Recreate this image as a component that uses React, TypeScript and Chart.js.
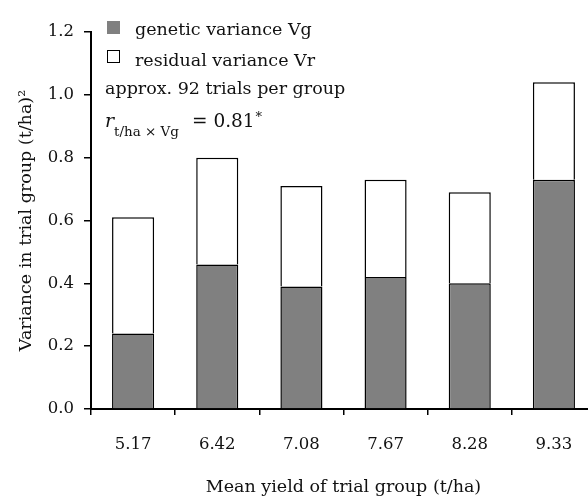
import React, { useEffect, useRef } from "react";
import { Chart, registerables } from "chart.js";

Chart.register(...registerables);

// Mean yield of each trial group (t/ha)
const groups = ["5.17", "6.42", "7.08", "7.67", "8.28", "9.33"];
// Genetic variance Vg per group
const geneticVariance = [0.24, 0.46, 0.39, 0.42, 0.4, 0.73];
// Residual variance Vr per group (stacked on top of Vg)
const residualVariance = [0.37, 0.34, 0.32, 0.31, 0.29, 0.31];
const yTicks = [0, 0.2, 0.4, 0.6, 0.8, 1.0, 1.2];

const FONT = "'DejaVu Serif', serif";
const INK = "#111111";
const GREY = "#808080";

// Legend block and the correlation note in the upper-left of the plot
const notesPlugin = {
  id: "notes",
  afterDraw(chart: any) {
    const ctx = chart.ctx as CanvasRenderingContext2D;
    const left = chart.chartArea.left;
    ctx.save();
    ctx.textBaseline = "alphabetic";
    ctx.textAlign = "left";

    // genetic variance swatch
    ctx.fillStyle = GREY;
    ctx.fillRect(left + 16, 21, 13, 13);
    ctx.fillStyle = INK;
    ctx.font = `17.5px ${FONT}`;
    ctx.fillText("genetic variance Vg", left + 44, 35);

    // residual variance swatch
    ctx.strokeStyle = "#000";
    ctx.lineWidth = 1;
    ctx.strokeRect(left + 16.5, 50.5, 12, 12);
    ctx.fillText("residual variance Vr", left + 44, 66);

    ctx.fillText("approx. 92 trials per group", left + 14, 94);

    // r_{t/ha × Vg} = 0.81*
    ctx.font = `italic 19px ${FONT}`;
    ctx.fillText("r", left + 14, 127);
    ctx.font = `13.5px ${FONT}`;
    ctx.fillText("t/ha × Vg", left + 23, 136);
    ctx.font = `18.5px ${FONT}`;
    ctx.fillText("= 0.81", left + 101, 127);
    const w = ctx.measureText("= 0.81").width;
    ctx.font = `13px ${FONT}`;
    ctx.fillText("*", left + 102 + w, 121);
    ctx.restore();
  },
};

export default function App() {
  const canvasRef = useRef<HTMLCanvasElement | null>(null);

  useEffect(() => {
    if (!canvasRef.current) return;
    const chart = new Chart(canvasRef.current, {
      type: "bar",
      data: {
        labels: groups,
        datasets: [
          {
            label: "genetic variance Vg",
            data: geneticVariance,
            backgroundColor: GREY,
            borderColor: "#000",
            borderWidth: 1.5,
            barPercentage: 0.5,
            categoryPercentage: 1.0,
          },
          {
            label: "residual variance Vr",
            data: residualVariance,
            backgroundColor: "#ffffff",
            borderColor: "#000",
            borderWidth: 1.5,
            barPercentage: 0.5,
            categoryPercentage: 1.0,
          },
        ],
      },
      options: {
        animation: false,
        responsive: true,
        maintainAspectRatio: false,
        layout: { padding: { left: 0, right: 14, top: 32, bottom: 0 } },
        plugins: {
          legend: { display: false },
          tooltip: { enabled: false },
        },
        scales: {
          x: {
            stacked: true,
            offset: true,
            afterFit(scale: any) {
              scale.height = 91;
            },
            grid: {
              offset: true,
              drawOnChartArea: false,
              drawTicks: true,
              tickLength: 6,
              color: "#000",
              lineWidth: 1.5,
            },
            border: { display: true, color: "#000", width: 2 },
            ticks: {
              color: INK,
              font: { family: FONT, size: 16.5 },
              padding: 20,
              maxRotation: 0,
            },
            title: {
              display: true,
              text: "Mean yield of trial group (t/ha)",
              color: INK,
              font: { family: FONT, size: 17.5 },
              padding: { top: 0, bottom: 2 },
            },
          },
          y: {
            stacked: true,
            min: 0,
            max: 1.2,
            afterFit(scale: any) {
              scale.width = 91;
            },
            afterBuildTicks(scale: any) {
              scale.ticks = yTicks.map((v) => ({ value: v }));
            },
            grid: {
              drawOnChartArea: false,
              drawTicks: true,
              tickLength: 7,
              color: "#000",
              lineWidth: 1.5,
            },
            border: { display: true, color: "#000", width: 2 },
            ticks: {
              color: INK,
              font: { family: FONT, size: 16.5 },
              padding: 10,
              callback: (v: any) => Number(v).toFixed(1),
            },
            title: {
              display: true,
              text: "Variance in trial group (t/ha)²",
              color: INK,
              font: { family: FONT, size: 17.5 },
              padding: { top: 16, bottom: 0 },
            },
          },
        },
      },
      plugins: [notesPlugin],
    });
    return () => chart.destroy();
  }, []);

  return (
    <div
      style={{
        position: "fixed",
        left: 0,
        top: 0,
        width: 588,
        height: 500,
        overflow: "hidden",
        background: "#fff",
      }}
    >
      <div style={{ position: "relative", width: 610, height: 500 }}>
        <canvas ref={canvasRef} />
      </div>
    </div>
  );
}
